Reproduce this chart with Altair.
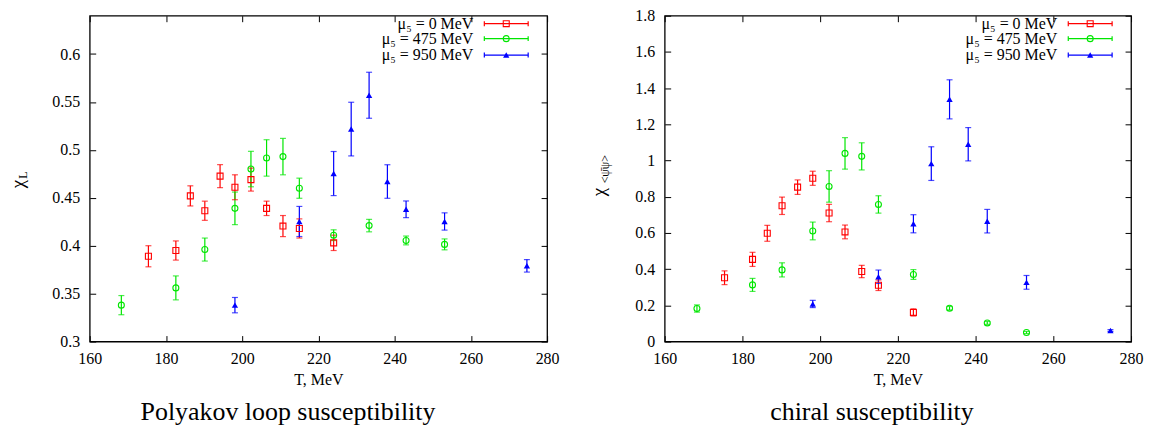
import altair as alt
import pandas as pd

# ---------------- data ----------------
SERIES = ["μ₅ = 0 MeV", "μ₅ = 475 MeV", "μ₅ = 950 MeV"]
COLORS = ["#ff0000", "#00e600", "#0000ff"]
SHAPES = ["square", "circle", "triangle-up"]
FILLED = [False, False, True]

T_MU0 = [175.4, 182.6, 186.4, 190.2, 194.2, 198.1, 202.3, 206.4, 210.7, 215.0, 224.0]
T_MU475 = [168.3, 182.6, 190.2, 198.1, 202.3, 206.4, 210.7, 215.0, 224.0, 233.3, 243.0, 253.1]
T_MU950 = [198.1, 215.0, 224.0, 228.6, 233.3, 238.1, 243.0, 253.1, 274.7]

# Polyakov loop susceptibility
PL_MU0 = [0.389, 0.395, 0.452, 0.4365, 0.4726, 0.461, 0.469, 0.439, 0.4205, 0.418, 0.403]
PL_MU0_ERR = [0.011, 0.010, 0.0105, 0.010, 0.012, 0.013, 0.012, 0.0075, 0.011, 0.010, 0.008]
PL_MU475 = [0.338, 0.356, 0.396, 0.439, 0.480, 0.4916, 0.493, 0.460, 0.411, 0.421, 0.4055, 0.4014]
PL_MU475_ERR = [0.010, 0.0125, 0.012, 0.017, 0.0185, 0.019, 0.019, 0.0105, 0.0056, 0.0065, 0.0046, 0.0057]
PL_MU950 = [0.338, 0.4253, 0.4753, 0.5217, 0.557, 0.467, 0.438, 0.4253, 0.379]
PL_MU950_ERR = [0.008, 0.0157, 0.023, 0.028, 0.024, 0.0175, 0.0087, 0.009, 0.0065]

# chiral susceptibility
CH_MU0 = [0.3525, 0.454, 0.598, 0.75, 0.853, 0.902, 0.710, 0.6056, 0.387, 0.311, 0.161]
CH_MU0_ERR = [0.038, 0.039, 0.044, 0.048, 0.040, 0.039, 0.048, 0.038, 0.034, 0.029, 0.02]
CH_MU475 = [0.1825, 0.313, 0.396, 0.611, 0.857, 1.0395, 1.023, 0.7575, 0.3705, 0.1844, 0.103, 0.050]
CH_MU475_ERR = [0.02, 0.036, 0.039, 0.049, 0.087, 0.087, 0.075, 0.048, 0.027, 0.01, 0.008, 0.006]
CH_MU950 = [0.2077, 0.358, 0.6507, 0.983, 1.338, 1.09, 0.665, 0.327, 0.061]
CH_MU950_ERR = [0.02, 0.037, 0.05, 0.093, 0.108, 0.092, 0.065, 0.038, 0.005]

X_TICKS = [160, 180, 200, 220, 240, 260, 280]
X_DOMAIN = [160, 280]
PL_Y_TICKS = [0.3, 0.35, 0.4, 0.45, 0.5, 0.55, 0.6]
PL_Y_DOMAIN = [0.3, 0.64]
CH_Y_TICKS = [0, 0.2, 0.4, 0.6, 0.8, 1, 1.2, 1.4, 1.6, 1.8]
CH_Y_DOMAIN = [0, 1.8]

X_TITLE = "T, MeV"
PL_CAPTION = "Polyakov loop susceptibility"
CH_CAPTION = "chiral susceptibility"

FONT = "Liberation Serif"
TICK = 6


def table(ts, vals, errs):
    rows = []
    for s, t, v, e in zip(SERIES, ts, vals, errs):
        for ti, vi, ei in zip(t, v, e):
            rows.append({"series": s, "T": ti, "chi": vi, "lo": vi - ei, "hi": vi + ei})
    return pd.DataFrame(rows)


def axis(orient, values, labels=True, title=None, fmt="~g"):
    kw = dict(
        orient=orient, values=values, offset=-TICK, tickSize=TICK, tickColor="black",
        tickWidth=1, domain=False, grid=False, labels=labels, labelFlush=False,
        labelOverlap=False, labelFont=FONT, labelFontSize=16, labelColor="black",
        format=fmt, title=title,
    )
    if orient == "bottom":
        kw.update(labelPadding=9, titlePadding=5, titleFont=FONT, titleFontSize=16,
                  titleFontWeight="normal", titleColor="black")
    if orient == "left":
        kw.update(labelPadding=10)
    return alt.Axis(**kw)


def text_layer(txt, x, y, size, angle=0, align="center", baseline="middle"):
    return alt.Chart(pd.DataFrame({"t": [txt]})).mark_text(
        font=FONT, fontSize=size, angle=angle, align=align, baseline=baseline, color="black"
    ).encode(x=alt.value(x), y=alt.value(y), text="t:N")


def panel(df, ydom, yticks, W, H, ytitle, caption, cap_x):
    xs = alt.Scale(domain=X_DOMAIN, nice=False, zero=False)
    ys = alt.Scale(domain=ydom, nice=False, zero=False)
    color = alt.Color("series:N", scale=alt.Scale(domain=SERIES, range=COLORS), legend=None)
    base = alt.Chart(df)

    bars = base.mark_rule(strokeWidth=1.2).encode(
        x=alt.X("T:Q", scale=xs, axis=axis("bottom", X_TICKS, title=X_TITLE, fmt="d")),
        y=alt.Y("lo:Q", scale=ys, axis=axis("left", yticks)),
        y2="hi:Q", color=color,
    )
    mirror = base.mark_rule(opacity=0).encode(
        x=alt.X("T:Q", scale=xs, axis=axis("top", X_TICKS, labels=False)),
        y=alt.Y("lo:Q", scale=ys, axis=axis("right", yticks, labels=False)),
        y2="hi:Q",
    )
    caps = [
        base.mark_tick(orient="horizontal", size=6, thickness=1.2).encode(
            x=alt.X("T:Q", scale=xs, axis=None),
            y=alt.Y(f"{c}:Q", scale=ys, axis=None), color=color)
        for c in ("lo", "hi")
    ]
    pts = [
        base.transform_filter(alt.datum.series == s).mark_point(
            shape=SHAPES[i], filled=FILLED[i], size=40 if i == 2 else 36,
            strokeWidth=1.1, opacity=1, color=COLORS[i]
        ).encode(x=alt.X("T:Q", scale=xs, axis=None), y=alt.Y("chi:Q", scale=ys, axis=None))
        for i, s in enumerate(SERIES)
    ]

    # legend (text on the left, error-bar sample on the right)
    leg = []
    for i, s in enumerate(SERIES):
        ry = LEG_Y[i]
        one = alt.Chart(pd.DataFrame({"s": [s]}))
        leg.append(one.mark_text(font=FONT, fontSize=16, align="right", baseline="middle",
                                 color="black").encode(
            x=alt.value(W - 74), y=alt.value(ry), text="s:N"))
        leg.append(one.mark_rule(color=COLORS[i], strokeWidth=1.2).encode(
            x=alt.value(W - 63), x2=alt.value(W - 19), y=alt.value(ry)))
        for ex in (W - 63, W - 19):
            leg.append(one.mark_rule(color=COLORS[i], strokeWidth=1.2).encode(
                x=alt.value(ex), y=alt.value(ry - 2.5), y2=alt.value(ry + 2.5)))
        leg.append(one.mark_point(shape=SHAPES[i], filled=FILLED[i], size=40 if i == 2 else 36,
                                  strokeWidth=1.1, opacity=1, color=COLORS[i]).encode(
            x=alt.value(W - 41), y=alt.value(ry)))

    titles = [text_layer(t, x, y, sz, angle=270) for (t, x, y, sz) in ytitle]
    cap = text_layer(caption, cap_x, H + 79, 26, baseline="alphabetic")

    return alt.layer(bars, mirror, *caps, *pts, *leg, *titles, cap).resolve_axis(
        x="independent", y="independent"
    ).properties(width=W, height=H)


LEG_Y = [8, 23, 39.5]
H = 327

left = panel(
    table([T_MU0, T_MU475, T_MU950], [PL_MU0, PL_MU475, PL_MU950],
          [PL_MU0_ERR, PL_MU475_ERR, PL_MU950_ERR]),
    PL_Y_DOMAIN, PL_Y_TICKS, 459, H,
    [("χ", -72, 169, 19), ("L", -66.5, 160, 12)],
    PL_CAPTION, 199,
)
right = panel(
    table([T_MU0, T_MU475, T_MU950], [CH_MU0, CH_MU475, CH_MU950],
          [CH_MU0_ERR, CH_MU475_ERR, CH_MU950_ERR]),
    CH_Y_DOMAIN, CH_Y_TICKS, 468, H,
    [("χ", -66, 177, 19), ("<ψ̄ψ>", -59.5, 154, 12)],
    CH_CAPTION, 208,
)

chart = alt.hconcat(left, right, spacing=118, bounds="flush").properties(
    padding={"left": 0, "top": -2, "right": 0, "bottom": 0}
).configure_view(stroke="black", strokeWidth=1.3)

chart.save("out.html", embed_options={"renderer": "svg", "actions": False})
